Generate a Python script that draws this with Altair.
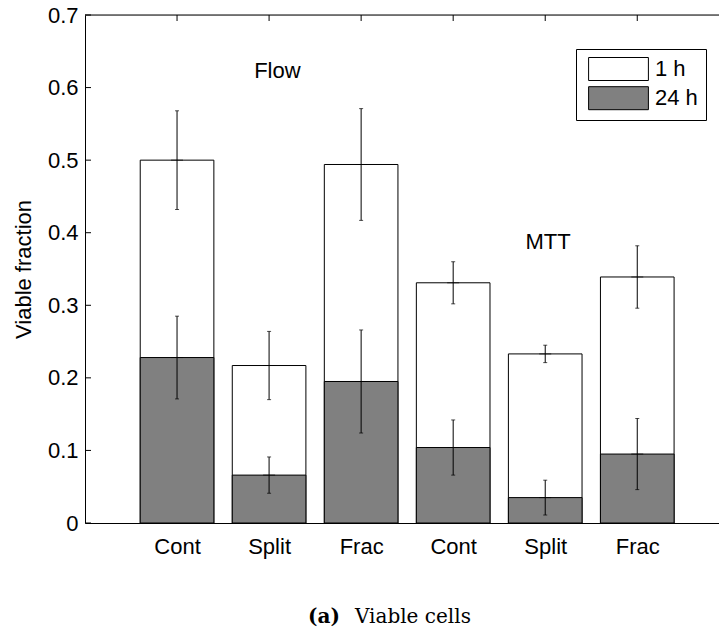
import json
import altair as alt
import pandas as pd

# ---- data ----
categories = ["Cont", "Split", "Frac", "Cont", "Split", "Frac"]
positions = [1, 2, 3, 4, 5, 6]
viable_1h = [0.500, 0.217, 0.494, 0.331, 0.233, 0.339]
err_1h = [0.068, 0.047, 0.077, 0.029, 0.012, 0.043]
viable_24h = [0.228, 0.066, 0.195, 0.104, 0.035, 0.095]
err_24h = [0.057, 0.025, 0.071, 0.038, 0.024, 0.049]
series_names = ["1 h", "24 h"]
series_colors = ["#ffffff", "#808080"]

y_ticks = [0, 0.1, 0.2, 0.3, 0.4, 0.5, 0.6, 0.7]
annot_text = ["Flow", "MTT"]
annot_x = [2.09, 5.03]
annot_y = [0.613, 0.378]

FONT = "Liberation Sans"
W, H = 634, 508
XMAX = 6.888

rows = []
for name, vals, errs in [("1 h", viable_1h, err_1h), ("24 h", viable_24h, err_24h)]:
    for p, c, v, e in zip(positions, categories, vals, errs):
        rows.append({"series": name, "pos": p, "cat": c, "value": v,
                     "lo": v - e, "hi": v + e,
                     "left": p - 0.4, "right": p + 0.4})
df = pd.DataFrame(rows)

xscale = alt.Scale(domain=[0, XMAX], nice=False, zero=False)
yscale = alt.Scale(domain=[0, 0.7], nice=False, zero=True)
label_expr = json.dumps(categories) + "[datum.value - 1]"

color = alt.Color(
    "series:N",
    scale=alt.Scale(domain=series_names, range=series_colors),
    legend=alt.Legend(
        orient="none", legendX=491, legendY=34, title=None,
        strokeColor="black", fillColor="white", padding=8,
        symbolType="M-2.6,-1H2.6V1H-2.6Z", symbolSize=529,
        symbolStrokeColor="black", symbolStrokeWidth=1,
        symbolOffset=22.5, labelOffset=24.5,
        labelFontSize=22, labelFont=FONT, labelColor="black",
        rowPadding=1.2, cornerRadius=0,
    ),
)

base = alt.Chart(df)

bars_1h = base.transform_filter(alt.datum.series == "1 h").mark_bar(
    stroke="black", strokeWidth=1
).encode(
    x=alt.X("left:Q", scale=xscale,
            axis=alt.Axis(values=positions, labelExpr=label_expr, ticks=False,
                          grid=False, title=None, domainColor="black",
                          labelFontSize=22, labelFont=FONT, labelColor="black",
                          labelPadding=13)),
    x2="right:Q",
    y=alt.Y("value:Q", scale=yscale,
            axis=alt.Axis(values=y_ticks, format=".1~f", ticks=False, grid=False,
                          title="Viable fraction", titleFontSize=22,
                          titleFont=FONT, titleFontWeight="normal",
                          titleColor="black", titlePadding=12,
                          domainColor="black", labelFontSize=22,
                          labelFont=FONT, labelColor="black", labelPadding=7)),
    y2=alt.datum(0),
    fill=color,
)

bars_24h = base.transform_filter(alt.datum.series == "24 h").mark_bar(
    stroke="black", strokeWidth=1
).encode(
    x=alt.X("left:Q", scale=xscale), x2="right:Q",
    y=alt.Y("value:Q", scale=yscale), y2=alt.datum(0),
    fill=color,
)

err_rule = base.mark_rule(color="black", strokeWidth=1).encode(
    x=alt.X("pos:Q", scale=xscale), y=alt.Y("lo:Q", scale=yscale), y2="hi:Q")
cap_lo = base.mark_tick(color="black", orient="horizontal", size=4, thickness=1).encode(
    x=alt.X("pos:Q", scale=xscale), y=alt.Y("lo:Q", scale=yscale))
cap_hi = base.mark_tick(color="black", orient="horizontal", size=4, thickness=1).encode(
    x=alt.X("pos:Q", scale=xscale), y=alt.Y("hi:Q", scale=yscale))
mean_tick = base.mark_tick(color="black", orient="horizontal", size=12, thickness=1).encode(
    x=alt.X("pos:Q", scale=xscale), y=alt.Y("value:Q", scale=yscale))

# inward ticks and top frame line
left_ticks = alt.Chart(pd.DataFrame({"t": y_ticks})).mark_rule(color="black").encode(
    y=alt.Y("t:Q", scale=yscale), x=alt.value(0), x2=alt.value(6))
top_ticks = alt.Chart(pd.DataFrame({"p": positions})).mark_rule(color="black").encode(
    x=alt.X("p:Q", scale=xscale), y=alt.value(0), y2=alt.value(6))
top_line = alt.Chart(pd.DataFrame({"p": [0]})).mark_rule(color="black").encode(
    x=alt.value(0), x2=alt.value(W), y=alt.value(0))

annot = alt.Chart(pd.DataFrame({"t": annot_text, "x": annot_x, "y": annot_y})).mark_text(
    font=FONT, fontSize=22, color="black", align="center", baseline="alphabetic"
).encode(x=alt.X("x:Q", scale=xscale), y=alt.Y("y:Q", scale=yscale), text="t:N")

cap_a = alt.Chart(pd.DataFrame({"t": ["(a)"]})).mark_text(
    font="DejaVu Serif", fontSize=20, fontWeight="bold", color="black",
    align="left", baseline="alphabetic"
).encode(x=alt.value(223), y=alt.value(608), text="t:N")
cap_b = alt.Chart(pd.DataFrame({"t": ["Viable cells"]})).mark_text(
    font="DejaVu Serif", fontSize=20, color="black",
    align="left", baseline="alphabetic"
).encode(x=alt.value(270), y=alt.value(608), text="t:N")

chart = alt.layer(
    bars_1h, bars_24h, err_rule, cap_lo, cap_hi, mean_tick,
    left_ticks, top_ticks, top_line, annot, cap_a, cap_b
).properties(
    width=W, height=H, autosize="none",
    padding={"left": 85, "top": 15, "right": 0, "bottom": 112},
).configure_view(stroke=None).configure(font=FONT)

chart.save("out.html", embed_options={"renderer": "svg", "actions": False})
